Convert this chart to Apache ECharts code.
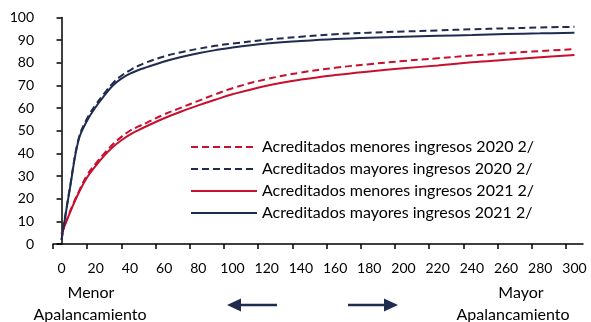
<!DOCTYPE html>
<html>
<head>
<meta charset="utf-8">
<script src="https://cdn.jsdelivr.net/npm/echarts@6/dist/echarts.min.js"></script>
<style>
html,body{margin:0;padding:0;background:#fff;}
#c{width:591px;height:322px;}
</style>
</head>
<body>
<div id="c"></div>
<script>
// x positions (apalancamiento)
const xValues = [0,5,10,15,20,25,30,35,40,45,50,60,70,80,90,100,120,140,160,180,200,220,240,260,280,300];
// series values
const menores2020 = [4.5,14.5,23,30.5,35.5,40,44,47.3,50,51.9,53.6,57.2,60.2,63.2,66.1,68.8,72.8,75.7,77.8,79.4,80.8,82.0,83.2,84.2,85.2,86.0];
const mayores2020 = [1.8,25.5,46.5,55.5,61.5,66.5,71.0,74.3,76.7,78.7,80.3,82.8,84.7,86.2,87.5,88.5,90.2,91.5,92.6,93.3,93.8,94.3,94.8,95.2,95.6,95.9];
const menores2021 = [4.5,14,22.5,29.5,34.5,39,42.8,45.8,48.3,50.3,52.1,55.5,58.5,61.2,63.7,66.1,69.9,72.6,74.6,76.2,77.6,78.8,80.2,81.3,82.4,83.4];
const mayores2021 = [1.8,25,46,54.5,60.5,65.5,70.0,73.0,75.2,76.8,78.1,80.6,82.6,84.2,85.6,86.8,88.5,89.6,90.5,91.1,91.5,91.9,92.3,92.7,93.0,93.3];
// axis tick labels
const xTickLabels = [0,20,40,60,80,100,120,140,160,180,200,220,240,260,280,300];
const xTickMarks = [-5,15,35,55,75,95,115,135,155,175,195,215,235,255,275,295];
const seriesNames = [
  'Acreditados menores ingresos 2020 2/',
  'Acreditados mayores ingresos 2020 2/',
  'Acreditados menores ingresos 2021 2/',
  'Acreditados mayores ingresos 2021 2/'
];

const RED = '#C8102E';
const NAVY = '#1F2B4F';
const FONT = 'Lato';

function pairs(ys){ return xValues.map((x,i)=>[x, ys[i]]); }

function mkSeries(name, ys, color, dashed){
  return {
    name: name,
    type: 'line',
    data: pairs(ys),
    showSymbol: false,
    symbol: 'none',
    smooth: 0.4,
    lineStyle: { color: color, width: 2, type: dashed ? [7,4] : 'solid' },
    itemStyle: { color: color },
    emphasis: { disabled: true },
    animation: false
  };
}

const chart = echarts.init(document.getElementById('c'), null, {renderer:'canvas'});
chart.setOption({
  animation: false,
  backgroundColor: '#fff',
  grid: { left: 53, right: 8, top: 17.5, bottom: 78, containLabel: false },
  legend: {
    orient: 'vertical',
    left: 190,
    top: 139,
    padding: 0,
    itemWidth: 66,
    itemHeight: 14,
    itemGap: 6,
    data: seriesNames,
    itemStyle: { opacity: 0 },
    textStyle: { fontFamily: FONT, fontSize: 16, lineHeight: 16, color: '#000' },
    selectedMode: false
  },
  xAxis: {
    type: 'value',
    min: -5,
    max: 305,
    axisLine: { show: true, onZero: false, lineStyle: { color: '#000', width: 1.5 } },
    axisTick: { show: true, length: 5, inside: false, customValues: xTickMarks, lineStyle: { color: '#000', width: 1.5 } },
    axisLabel: { customValues: xTickLabels, margin: 17, fontFamily: FONT, fontSize: 14, color: '#000', showMinLabel: true, showMaxLabel: true },
    splitLine: { show: false }
  },
  yAxis: {
    type: 'value',
    min: 0,
    max: 100,
    interval: 10,
    axisLine: { show: true, lineStyle: { color: '#000', width: 1.5 } },
    axisTick: { show: true, length: 5, lineStyle: { color: '#000', width: 1.5 } },
    axisLabel: { margin: 19, fontFamily: FONT, fontSize: 14, color: '#000' },
    splitLine: { show: false }
  },
  series: [
    mkSeries(seriesNames[0], menores2020, RED, true),
    mkSeries(seriesNames[1], mayores2020, NAVY, true),
    mkSeries(seriesNames[2], menores2021, RED, false),
    mkSeries(seriesNames[3], mayores2021, NAVY, false)
  ],
  graphic: [
    { type: 'text', x: 91, y: 293, style: { text: 'Menor', fontFamily: FONT, fontSize: 16, fill: '#000', textAlign: 'center', textVerticalAlign: 'middle' } },
    { type: 'text', x: 90, y: 315, style: { text: 'Apalancamiento', fontFamily: FONT, fontSize: 16, fill: '#000', textAlign: 'center', textVerticalAlign: 'middle' } },
    { type: 'text', x: 521, y: 293, style: { text: 'Mayor', fontFamily: FONT, fontSize: 16, fill: '#000', textAlign: 'center', textVerticalAlign: 'middle' } },
    { type: 'text', x: 513, y: 315, style: { text: 'Apalancamiento', fontFamily: FONT, fontSize: 16, fill: '#000', textAlign: 'center', textVerticalAlign: 'middle' } },
    { type: 'line', shape: { x1: 239, y1: 305, x2: 277, y2: 305 }, style: { stroke: NAVY, lineWidth: 2.5 } },
    { type: 'polygon', shape: { points: [[227,305],[241,298.5],[241,311.5]] }, style: { fill: NAVY } },
    { type: 'line', shape: { x1: 348, y1: 305, x2: 386, y2: 305 }, style: { stroke: NAVY, lineWidth: 2.5 } },
    { type: 'polygon', shape: { points: [[398,305],[384,298.5],[384,311.5]] }, style: { fill: NAVY } }
  ]
});
</script>
</body>
</html>
